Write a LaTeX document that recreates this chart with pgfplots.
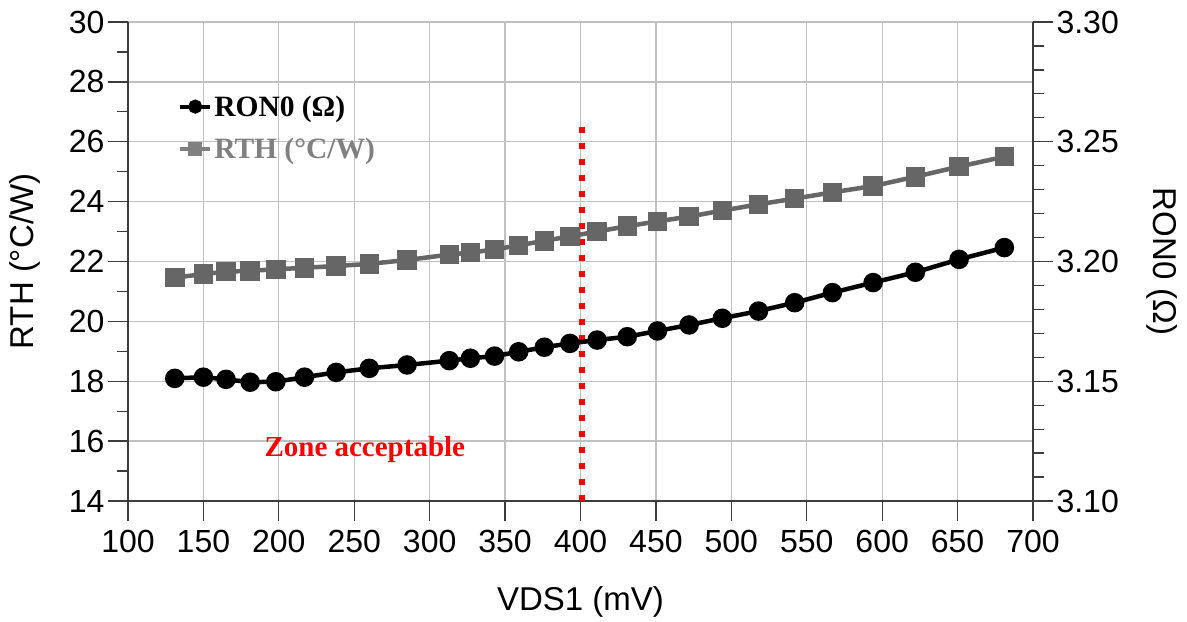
\documentclass[border=0pt]{standalone}
\usepackage{fontspec}
\setmainfont{Liberation Sans}
\newfontfamily\serifbold{Liberation Serif}
\usepackage{pgfplots}
\pgfplotsset{compat=1.18}
\definecolor{rthgray}{RGB}{102,102,102}
\definecolor{leggray}{RGB}{128,128,128}
\definecolor{gridgray}{RGB}{192,192,192}
\definecolor{axgray}{RGB}{60,60,60}

\pgfplotstableread{
x    rth    ron
131  21.46  3.1512
150  21.58  3.1517
165  21.66  3.1508
181  21.69  3.1496
198  21.74  3.1498
217  21.79  3.1517
238  21.85  3.1537
260  21.92  3.1554
285  22.05  3.1568
313  22.23  3.1586
327  22.30  3.1596
343  22.40  3.1605
359  22.54  3.1623
376  22.69  3.1642
393  22.84  3.1658
411  23.00  3.1672
431  23.18  3.1686
451  23.34  3.1710
472  23.50  3.1735
494  23.70  3.1763
518  23.91  3.1793
542  24.10  3.1828
567  24.31  3.1870
594  24.52  3.1912
622  24.83  3.1955
651  25.17  3.2009
681  25.50  3.2058
}\datatable

\pgfplotsset{
  common/.style={
    width=905bp, height=479bp, scale only axis,
    xmin=100, xmax=700,
    tick align=outside,
    major tick length=20bp, minor tick length=11bp,
    tick style={axgray, line width=1.3bp},
    axis line style={axgray, line width=1.5bp},
    tick label style={font=\fontsize{32bp}{34bp}\selectfont},
    label style={font=\fontsize{33bp}{35bp}\selectfont},
    /pgf/number format/assume math mode=true,
  }
}

\begin{document}
\begin{tikzpicture}
\begin{axis}[common,
  axis x line*=bottom, axis y line*=left,
  ymin=14, ymax=30,
  xtick={100,150,...,700},
  ytick={14,16,...,30},
  minor y tick num=1,
  grid=major,
  major grid style={gridgray, line width=1.3bp},
  xticklabel style={yshift=-6bp},
  xlabel={VDS1 (mV)},
  ylabel={RTH (°C/W)},
  xlabel style={at={(axis description cs:0.5,0)}, anchor=center, yshift=-101bp},
  ylabel style={at={(axis description cs:-0.1138,0.5)}, anchor=center, rotate=0},
]
\coordinate (ll) at (rel axis cs:0,0);
\coordinate (ur) at (rel axis cs:1,1);
\addplot[rthgray, line width=4.5bp, mark=square*, mark size=7.5bp,
  mark options={rounded corners=2bp}] table[x=x, y=rth] {\datatable};
\addplot[red, line width=6bp, dash pattern=on 6bp off 10bp] coordinates {(401,14) (401,26.5)};
\node[red, font=\serifbold\bfseries\fontsize{29bp}{32bp}\selectfont] at (axis cs:257,15.72) {Zone acceptable};
\end{axis}

\begin{axis}[common,
  axis x line=none, axis y line*=right,
  ymin=3.10, ymax=3.30,
  ytick={3.10,3.15,3.20,3.25,3.30},
  minor y tick num=4,
  yticklabel style={/pgf/number format/.cd, fixed, fixed zerofill, precision=2},
  ylabel={RON0 (Ω)},
  ylabel style={at={(axis description cs:1.1425,0.5)}, anchor=center, rotate=180},
  legend style={at={(axis description cs:0.052,0.855)}, anchor=north west, draw=none, fill=none,
    font=\serifbold\bfseries\fontsize{29.5bp}{31bp}\selectfont, row sep=16bp,
    nodes={inner sep=2bp}},
  legend cell align=left,
  legend image code/.code={\draw[mark repeat=2, mark phase=2, #1] plot coordinates {(0bp,0bp) (15bp,0bp) (30bp,0bp)};},
]
\addlegendimage{black, line width=4bp, mark=*, mark size=5bp}
\addlegendentry{RON0 (Ω)}
\addlegendimage{leggray, line width=4bp, mark=square*, mark size=5bp}
\addlegendentry{\textcolor{leggray}{RTH (°C/W)}}
\addplot[black, line width=4.5bp, mark=*, mark size=7.5bp, forget plot] table[x=x, y=ron] {\datatable};
\end{axis}
\pgfresetboundingbox
\path ([shift={(-128bp,-120bp)}]ll) rectangle ([shift={(154bp,22bp)}]ur);
\end{tikzpicture}
\end{document}
